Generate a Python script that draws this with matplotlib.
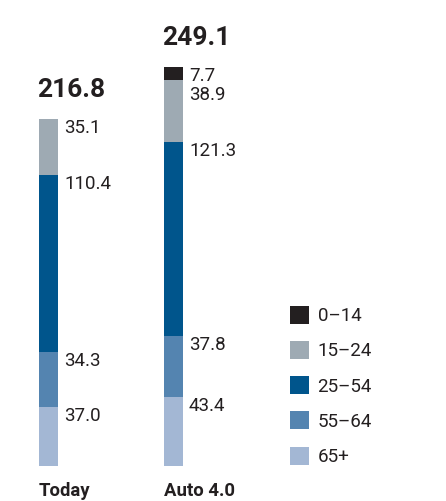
import matplotlib.pyplot as plt
from matplotlib.patches import Patch

plt.rcParams['font.family'] = ['Roboto', 'DejaVu Sans']

# data
scenarios = ["Today", "Auto 4.0"]
groups = ["0\u201314", "15\u201324", "25\u201354", "55\u201364", "65+"]
# values per age group, stacked from the bottom (65+) to the top (0-14)
v65 = [37.0, 43.4]
v55 = [34.3, 37.8]
v25 = [110.4, 121.3]
v15 = [35.1, 38.9]
v0 = [0.0, 7.7]
totals = [216.8, 249.1]

colors = {"0\u201314": "#231f20", "15\u201324": "#9eaab3", "25\u201354": "#00558c",
          "55\u201364": "#5484b0", "65+": "#a3b7d4"}
txtcol = "#231f20"

W, H = 446, 501
fig = plt.figure(figsize=(W / 100, H / 100), dpi=100)
scale = 1.60  # px per unit
ymax = 280
ax = fig.add_axes([0, 35 / H, 1, ymax * scale / H])
ax.set_ylim(0, ymax)
ax.set_xlim(-48.5 / 125, (W - 48.5) / 125)
ax.axis('off')

width = 19 / 125
xs = list(range(len(scenarios)))
stack = [("65+", v65), ("55\u201364", v55), ("25\u201354", v25), ("15\u201324", v15), ("0\u201314", v0)]

# bars
bottoms = [0.0, 0.0]
tops = []
for name, vals in stack:
    ax.bar(xs, vals, width=width, bottom=bottoms, color=colors[name], linewidth=0)
    tops.append([b + v for b, v in zip(bottoms, vals)])
    bottoms = [b + v for b, v in zip(bottoms, vals)]

# segment labels, top down, pushed down if they would collide
line_h = 19 / scale  # label height in data units
for i in xs:
    last = None
    for k in range(len(stack) - 1, -1, -1):
        v = stack[k][1][i]
        if v <= 0:
            continue
        y = tops[k][i]
        if last is not None and y > last - line_h:
            y = last - line_h
        ax.annotate(f"{v:.1f}", xy=(xs[i] + width / 2, y), xytext=(4.3, 0),
                    textcoords='offset points', ha='left', va='top',
                    fontsize=13.5, color=txtcol)
        last = y

for i, t in enumerate(totals):
    ax.annotate(f"{t:.1f}", xy=(xs[i] - width / 2, t), xytext=(-1, 16),
                textcoords='offset points', ha='left', va='baseline',
                fontsize=19, fontweight='bold', color=txtcol)
    ax.annotate(scenarios[i], xy=(xs[i] - width / 2, 0), xytext=(0, -21.5),
                textcoords='offset points', ha='left', va='baseline',
                fontsize=13.3, fontweight='bold', color=txtcol)

handles = [Patch(facecolor=colors[g], edgecolor='none', label=g) for g in groups]
leg = fig.legend(handles=handles, loc='upper left', bbox_to_anchor=(282 / W, 1 - 298 / H),
                 frameon=False, fontsize=13.5, handlelength=1.05, handleheight=1.1,
                 handletextpad=0.45, labelspacing=0.85, borderaxespad=0)
for t in leg.get_texts():
    t.set_color(txtcol)

fig.savefig("out.png", dpi=100)
